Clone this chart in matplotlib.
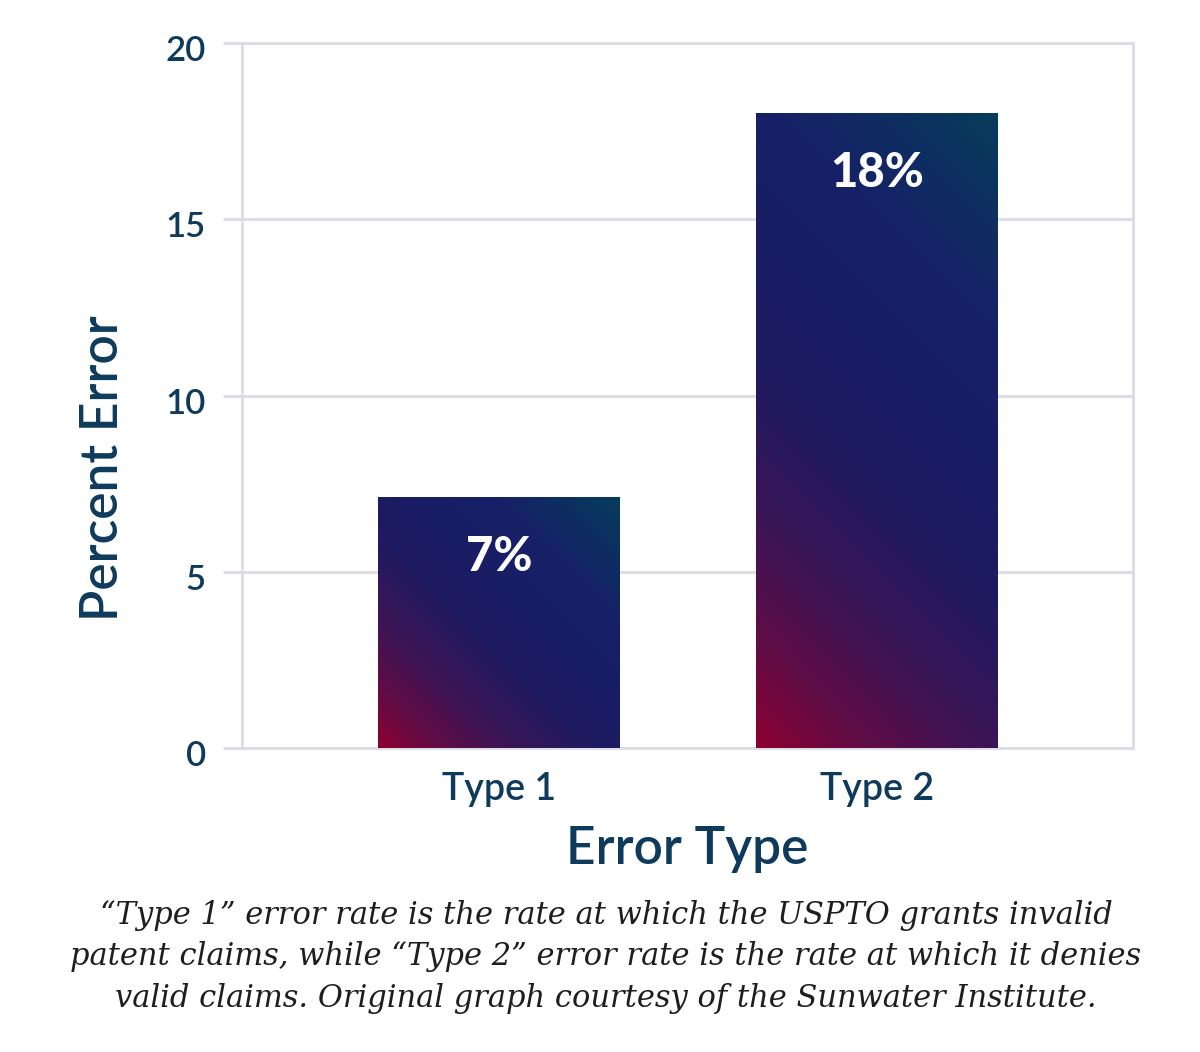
import numpy as np
import matplotlib
matplotlib.use("Agg")
import matplotlib.pyplot as plt
from matplotlib.colors import LinearSegmentedColormap
from matplotlib.transforms import ScaledTranslation

categories = ["Type 1", "Type 2"]
values = [7.1, 18.0]
labels = ["7%", "18%"]
yticks = [0, 5, 10, 15, 20]

navy_text = "#0e3a5c"
grid_col = "#dcdce8"

grad = LinearSegmentedColormap.from_list(
    "bargrad",
    [(0.0, "#8c0030"), (0.12, "#620c45"), (0.27, "#3a1556"),
     (0.45, "#1d1b62"), (0.75, "#162167"), (1.0, "#063c5b")])

fig = plt.figure(figsize=(12, 10.52), dpi=100)
fig.patch.set_facecolor("white")
ax = fig.add_axes([242/1200, 1-748/1052, (1133-242)/1200, (748-43)/1052])

x = np.arange(len(categories))
bars = ax.bar(x, values, width=0.64, color="none", edgecolor="none", zorder=3)
ax.set_xlim(-0.68, 1.677)
ax.set_ylim(0, 20)

fig.canvas.draw()
p0 = ax.transData.transform((0, 0))
p1 = ax.transData.transform((1, 1))
sx, sy = p1 - p0

for b in bars:
    x0, w, h = b.get_x(), b.get_width(), b.get_height()
    wp, hp = w * sx, h * sy
    nx, ny = 200, max(2, int(200 * hp / wp))
    u = np.linspace(0, 1, nx)
    v = np.linspace(0, 1, ny)
    U, V = np.meshgrid(u, v)
    T = (U * wp + V * hp) / (wp + hp)
    ax.imshow(T, cmap=grad, vmin=0, vmax=1, origin="lower",
              extent=[x0, x0 + w, 0, h], aspect="auto", zorder=3,
              interpolation="bilinear")

ax.set_xlim(-0.68, 1.677)
ax.set_ylim(0, 20)
ax.set_aspect("auto")

for xi, val, lab in zip(x, values, labels):
    ax.annotate(lab, (xi, val), xytext=(0, -43), textcoords="offset points",
                ha="center", va="center", color="white", fontsize=34,
                fontfamily="Lato", fontweight="black", zorder=5)

ax.set_yticks(yticks)
ax.set_yticklabels([str(t) for t in yticks])
ax.set_xticks(x)
ax.set_xticklabels(categories)
ax.yaxis.grid(True, color=grid_col, linewidth=2, zorder=0)
ax.set_axisbelow(True)
for s in ax.spines.values():
    s.set_color(grid_col)
    s.set_linewidth(2)
ax.tick_params(axis="y", length=14, width=2, color=grid_col, pad=12,
               labelsize=25, labelcolor=navy_text)
ax.tick_params(axis="x", length=0, pad=17, labelsize=27, labelcolor=navy_text)
for lab in ax.get_yticklabels():
    lab.set_fontfamily("Lato")
    lab.set_fontweight("semibold")
    lab.set_transform(lab.get_transform() + ScaledTranslation(0, -5/100, fig.dpi_scale_trans))
for lab in ax.get_xticklabels():
    lab.set_fontfamily("Lato")
    lab.set_fontweight("semibold")

ax.set_xlabel("Error Type", fontsize=37, color=navy_text, fontfamily="Lato",
              fontweight="semibold")
ax.set_ylabel("Percent Error", fontsize=37, color=navy_text, fontfamily="Lato",
              fontweight="semibold")
ax.yaxis.set_label_coords(-0.129, 0.397)
ax.xaxis.set_label_coords(0.5, -0.11)

caption = ("\u201cType 1\u201d error rate is the rate at which the USPTO grants invalid\n"
           "patent claims, while \u201cType 2\u201d error rate is the rate at which it denies\n"
           "valid claims. Original graph courtesy of the Sunwater Institute.")
fig.text(0.505, 1 - 957/1052, caption, ha="center", va="center",
         fontsize=22, fontstyle="italic", fontfamily="DejaVu Serif",
         color="#1e1e1e", linespacing=1.45)

fig.savefig("out.png", dpi=100, facecolor="white")
